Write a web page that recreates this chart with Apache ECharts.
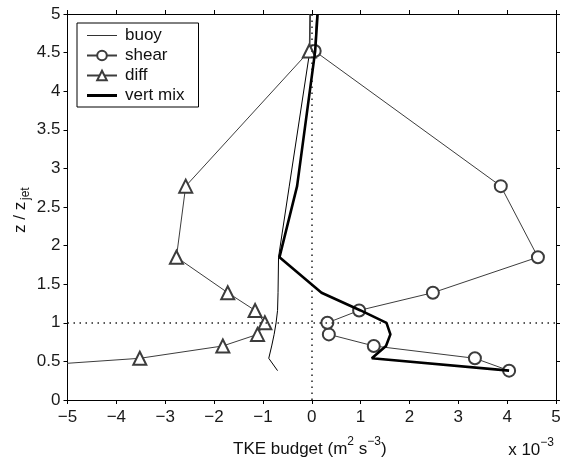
<!DOCTYPE html>
<html><head><meta charset="utf-8">
<script src="https://cdn.jsdelivr.net/npm/echarts@6.0.0/dist/echarts.min.js"></script>
<style>html,body{margin:0;padding:0;background:#fff}#c{width:565px;height:460px}</style>
</head><body><div id="c"></div>
<script>
// TKE budget (units of 1e-3 m^2 s^-3) vs z / z_jet
const seriesNames = ['buoy', 'shear', 'diff', 'vert mix'];
const buoy    = [[-0.70,0.38],[-0.88,0.54],[-0.82,0.70],[-0.77,0.85],[-0.73,1.00],[-0.70,1.16],[-0.69,1.39],[-0.68,1.85],[-0.46,2.77],[-0.04,4.52],[-0.03,5.00]];
const shear   = [[4.04,0.38],[3.34,0.54],[1.27,0.70],[0.35,0.85],[0.32,1.00],[0.97,1.16],[2.48,1.39],[4.63,1.85],[3.87,2.77],[0.06,4.52],[0.10,5.00]];
const diff    = [[-7.20,0.38],[-3.52,0.54],[-1.82,0.70],[-1.11,0.85],[-0.96,1.00],[-1.16,1.16],[-1.72,1.39],[-2.77,1.85],[-2.58,2.77],[-0.05,4.52],[-0.04,5.00]];
const vertMix = [[4.04,0.38],[1.23,0.54],[1.52,0.70],[1.61,0.85],[1.53,1.00],[1.00,1.16],[0.20,1.39],[-0.66,1.85],[-0.30,2.77],[0.07,4.52],[0.12,5.00]];
const xTicks = [-5,-4,-3,-2,-1,0,1,2,3,4,5];
const yTicks = [0,0.5,1,1.5,2,2.5,3,3.5,4,4.5,5];
const refX = 0, refY = 1;

const FONT = 'Liberation Sans, Arial, sans-serif';
const GRAY = '#3c3c3c';
const X0 = -5, X1 = 5, Y0 = 0, Y1 = 5;

function pts(arr) {
  return arr.map(p => {
    const inside = p[0] > X0 && p[0] < X1 && p[1] > Y0 && p[1] < Y1;
    return inside ? { value: p } : { value: p, symbol: 'none' };
  });
}
// plain line legend icon: tiny corner dots keep the 30x12 bounding box
function lineIcon(th) {
  const a = (6 - th / 2).toFixed(2), b = (6 + th / 2).toFixed(2);
  return 'path://M0,0L0.01,0L0.01,0.01Z M0,' + a + 'H30V' + b + 'H0Z M29.99,12L30,12L30,11.99Z';
}

const chart = echarts.init(document.getElementById('c'), null, { renderer: 'canvas' });
const axCommon = {
  type: 'value', splitLine: { show: false },
  axisLine: { show: true, onZero: false, lineStyle: { color: '#000', width: 1 } },
  axisTick: { show: true, inside: false, length: 4, lineStyle: { color: '#000' } },
};
chart.setOption({
  animation: false,
  backgroundColor: '#fff',
  grid: { left: 67.5, right: 9, top: 14, bottom: 60, containLabel: false },
  xAxis: [
    Object.assign({}, axCommon, { min: X0, max: X1, interval: 1, position: 'bottom',
      axisLabel: { margin: 9, fontSize: 17, fontFamily: FONT, color: '#1a1a1a',
        formatter: v => String(v).replace('-', '\u2212') } }),
    Object.assign({}, axCommon, { min: X0, max: X1, interval: 1, position: 'top', axisLabel: { show: false } })
  ],
  yAxis: [
    Object.assign({}, axCommon, { min: Y0, max: Y1, interval: 0.5, position: 'left',
      axisLabel: { margin: 7, fontSize: 17, fontFamily: FONT, color: '#1a1a1a' } }),
    Object.assign({}, axCommon, { min: Y0, max: Y1, interval: 0.5, position: 'right', axisLabel: { show: false } })
  ],
  legend: {
    orient: 'vertical', left: 77, top: 23,
    data: [
      { name: seriesNames[0], icon: lineIcon(1), itemStyle: { color: '#333' } },
      { name: seriesNames[1] },
      { name: seriesNames[2] },
      { name: seriesNames[3], icon: lineIcon(3), itemStyle: { color: '#000' } }
    ],
    itemWidth: 30, itemHeight: 12, itemGap: 3,
    padding: [4, 14, 3, 9],
    borderColor: '#000', borderWidth: 1, backgroundColor: '#fff',
    textStyle: { fontSize: 17, fontFamily: FONT, color: '#111', padding: [0, 0, 0, 3] }
  },
  series: [
    { name: seriesNames[0], type: 'line', data: pts(buoy), symbol: 'none', clip: true,
      lineStyle: { color: '#000', width: 1 }, itemStyle: { color: '#000' }, z: 3,
      markLine: { silent: true, symbol: 'none', label: { show: false },
        lineStyle: { color: '#222', width: 1.5, type: [1.5, 4.5] },
        data: [{ xAxis: refX }, { yAxis: refY }] } },
    { name: seriesNames[1], type: 'line', data: pts(shear), symbol: 'emptyCircle', symbolSize: 12, clip: true,
      lineStyle: { color: GRAY, width: 1 }, itemStyle: { color: GRAY, borderWidth: 1.2 }, z: 4 },
    { name: seriesNames[2], type: 'line', data: pts(diff), symbol: 'emptyTriangle', symbolSize: 13, clip: true,
      lineStyle: { color: GRAY, width: 1 }, itemStyle: { color: GRAY, borderWidth: 1.2 }, z: 4 },
    { name: seriesNames[3], type: 'line', data: pts(vertMix), symbol: 'none', clip: true,
      lineStyle: { color: '#000', width: 2.6 }, itemStyle: { color: '#000' }, z: 5 }
  ],
  graphic: [
    { type: 'text', left: 233, top: 436, style: {
        text: '{n|TKE budget (m}{s|2}{n| s}{s|\u22123}{n|)}', fill: '#111',
        rich: { n: { fontSize: 17, fontFamily: FONT, lineHeight: 22, verticalAlign: 'bottom' },
                s: { fontSize: 12, fontFamily: FONT, lineHeight: 14, verticalAlign: 'top' } } } },
    { type: 'text', right: 11, top: 437, style: {
        text: '{n|x 10}{s|\u22123}', fill: '#111',
        rich: { n: { fontSize: 17, fontFamily: FONT, lineHeight: 22, verticalAlign: 'bottom' },
                s: { fontSize: 12, fontFamily: FONT, lineHeight: 14, verticalAlign: 'top' } } } },
    { type: 'group', x: 20, y: 233, rotation: Math.PI / 2, children: [
        { type: 'text', x: 0, y: 0, style: { text: 'z / z', fontSize: 17, fontFamily: FONT, fill: '#111',
            textAlign: 'left', textVerticalAlign: 'middle' } },
        { type: 'text', x: 33, y: 6, style: { text: 'jet', fontSize: 12, fontFamily: FONT, fill: '#111',
            textAlign: 'left', textVerticalAlign: 'middle' } }
    ] }
  ]
});
</script></body></html>
